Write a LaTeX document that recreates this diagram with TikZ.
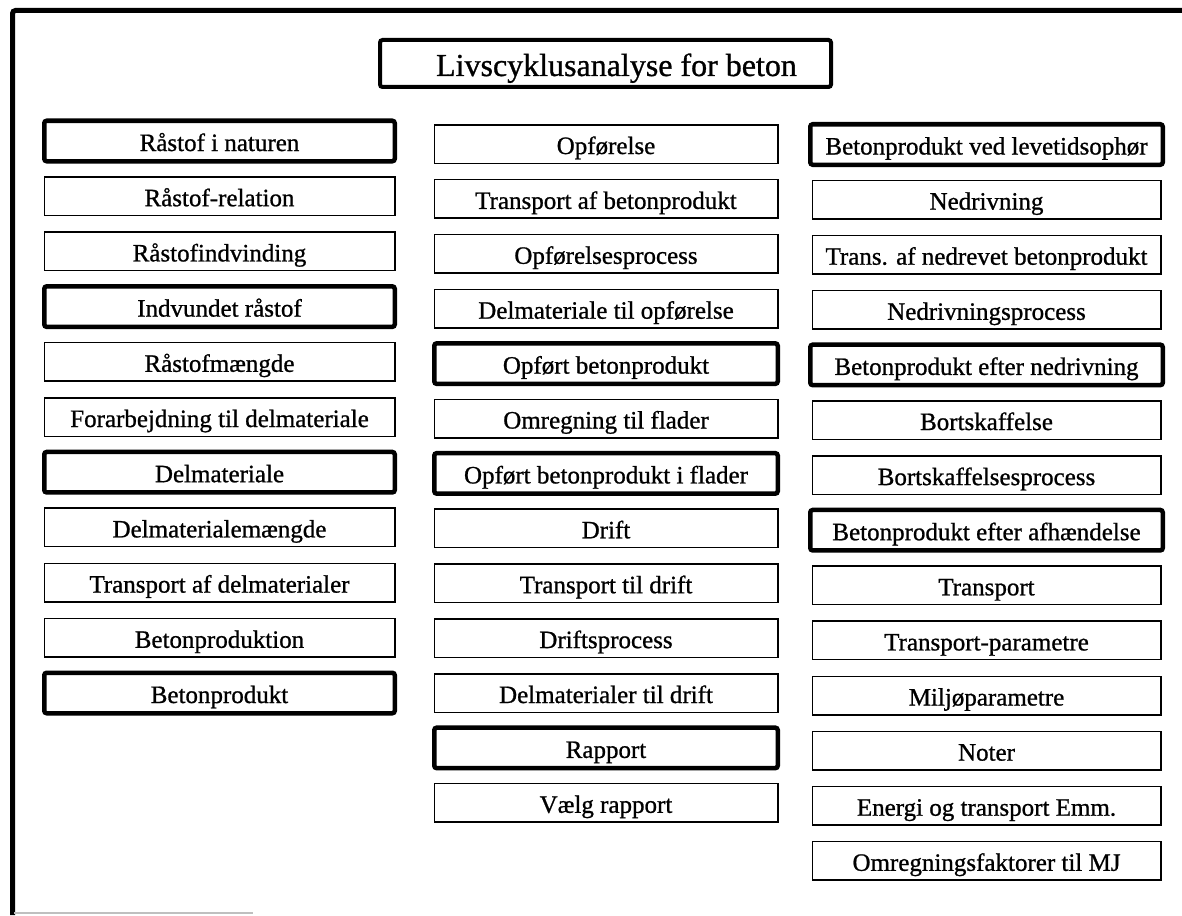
\documentclass[tikz,border=0pt]{standalone}
\usepackage{fontspec}
\setmainfont[FakeBold=0.9]{Liberation Serif}
\begin{document}
\begin{tikzpicture}[x=1pt,y=-1pt,
  txt/.style={font=\fontsize{25}{28}\selectfont, text height=21pt, text depth=1pt},
  thinbox/.style={txt, draw, line width=1.5pt, inner sep=0pt, minimum height=38.5pt},
  thickbox/.style={txt, draw, line width=4.5pt, inner sep=0pt, minimum height=40.5pt, rounded corners=2.5pt},
  lthin/.style={thinbox, minimum width=350.5pt},
  lthick/.style={thickbox, minimum width=350.5pt},
  mthin/.style={thinbox, minimum width=343.5pt},
  mthick/.style={thickbox, minimum width=343.5pt},
  rthin/.style={thinbox, minimum width=348.5pt},
  rthick/.style={thickbox, minimum width=352.5pt},
  frame/.style={line width=5pt, rounded corners=3pt}
]
\useasboundingbox (0,0) rectangle (1182,915);
% outer frame
\coordinate (fb) at (12.5,915);
\coordinate (fc) at (12.5,10.5);
\coordinate (fr) at (1182,10.5);
\draw[frame] (fb) -- (fc) -- (fr);
\coordinate (gl) at (14,913);
\coordinate (gr) at (253,913);
\draw[line width=1.2pt, black!25] (gl) -- (gr);

% title
\node[draw, line width=4pt, rounded corners=2.5pt, minimum width=451pt, minimum height=47pt, inner sep=0pt,
      font=\fontsize{32}{36}\selectfont, text height=27pt, text depth=2pt] (title) at (605.5,63.5) {\hspace{22pt}Livscyklusanalyse for beton};

% left column
\def\lx{219.5}
\node[lthick] (L1)  at (\lx,141)   {Råstof i naturen};
\node[lthin]  (L2)  at (\lx,196.2) {Råstof-relation};
\node[lthin]  (L3)  at (\lx,251.4) {Råstofindvinding};
\node[lthick] (L4)  at (\lx,306.6) {Indvundet råstof};
\node[lthin]  (L5)  at (\lx,361.8) {Råstofmængde};
\node[lthin]  (L6)  at (\lx,417)   {Forarbejdning til delmateriale};
\node[lthick] (L7)  at (\lx,472.2) {Delmateriale};
\node[lthin]  (L8)  at (\lx,527.4) {Delmaterialemængde};
\node[lthin]  (L9)  at (\lx,582.6) {Transport af delmaterialer};
\node[lthin]  (L10) at (\lx,637.8) {Betonproduktion};
\node[lthick] (L11) at (\lx,693)   {Betonprodukt};

% middle column
\def\mx{606}
\node[mthin]  (M1)  at (\mx,144)   {Opførelse};
\node[mthin]  (M2)  at (\mx,198.9) {Transport af betonprodukt};
\node[mthin]  (M3)  at (\mx,253.8) {Opførelsesprocess};
\node[mthin]  (M4)  at (\mx,308.7) {Delmateriale til opførelse};
\node[mthick] (M5)  at (\mx,363.6) {Opført betonprodukt};
\node[mthin]  (M6)  at (\mx,418.5) {Omregning til flader};
\node[mthick] (M7)  at (\mx,473.4) {Opført betonprodukt i flader};
\node[mthin]  (M8)  at (\mx,528.3) {Drift};
\node[mthin]  (M9)  at (\mx,583.2) {Transport til drift};
\node[mthin]  (M10) at (\mx,638.1) {Driftsprocess};
\node[mthin]  (M11) at (\mx,693)   {Delmaterialer til drift};
\node[mthick] (M12) at (\mx,747.9) {Rapport};
\node[mthin]  (M13) at (\mx,802.8) {Vælg rapport};

% right column
\def\rx{986.5}
\node[rthick] (R1)  at (\rx,144.5) {Betonprodukt ved levetidsophør};
\node[rthin]  (R2)  at (\rx,199.6) {Nedrivning};
\node[rthin]  (R3)  at (\rx,254.7) {Trans. af nedrevet betonprodukt};
\node[rthin]  (R4)  at (\rx,309.8) {Nedrivningsprocess};
\node[rthick] (R5)  at (\rx,364.9) {Betonprodukt efter nedrivning};
\node[rthin]  (R6)  at (\rx,420)   {Bortskaffelse};
\node[rthin]  (R7)  at (\rx,475.1) {Bortskaffelsesprocess};
\node[rthick] (R8)  at (\rx,530.2) {Betonprodukt efter afhændelse};
\node[rthin]  (R9)  at (\rx,585.3) {Transport};
\node[rthin]  (R10) at (\rx,640.4) {Transport-parametre};
\node[rthin]  (R11) at (\rx,695.5) {Miljøparametre};
\node[rthin]  (R12) at (\rx,750.6) {Noter};
\node[rthin]  (R13) at (\rx,805.7) {Energi og transport Emm.};
\node[rthin]  (R14) at (\rx,860.8) {Omregningsfaktorer til MJ};
\end{tikzpicture}
\end{document}
